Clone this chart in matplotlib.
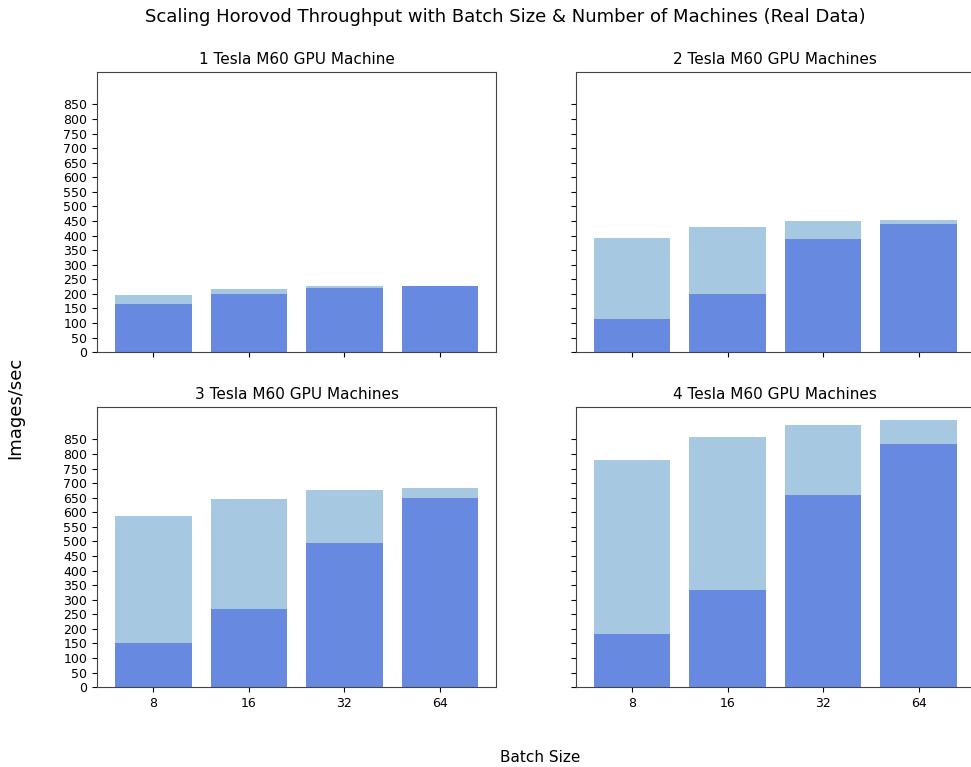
import numpy as np
import matplotlib
matplotlib.use("Agg")
import matplotlib.pyplot as plt

batch_sizes = ["8", "16", "32", "64"]
titles = ["1 Tesla M60 GPU Machine", "2 Tesla M60 GPU Machines",
          "3 Tesla M60 GPU Machines", "4 Tesla M60 GPU Machines"]

# light bars (higher throughput) and dark bars (lower throughput) per machine count
light_1 = [195, 216, 226, 226]
dark_1 = [164, 199, 219, 228]
light_2 = [391, 428, 449, 452]
dark_2 = [113, 199, 387, 439]
light_3 = [586, 644, 675, 685]
dark_3 = [152, 267, 493, 648]
light_4 = [781, 857, 901, 915]
dark_4 = [182, 332, 658, 833]

lights = [light_1, light_2, light_3, light_4]
darks = [dark_1, dark_2, dark_3, dark_4]

fig, axes = plt.subplots(2, 2, figsize=(9.71, 7.67), dpi=100, sharex=True, sharey=True)
fig.subplots_adjust(left=0.1, right=1.004, top=0.906, bottom=0.104, wspace=0.2, hspace=0.196)

x = np.arange(len(batch_sizes))
for i, ax in enumerate(axes.flat):
    ax.bar(x, lights[i], width=0.8, color="#a6c8e0")
    ax.bar(x, darks[i], width=0.8, color="#6889e0")
    ax.set_title(titles[i], fontsize=11)
    ax.set_yticks(np.arange(0, 851, 50))
    ax.tick_params(labelsize=9)
    for s in ax.spines.values():
        s.set_color("#444444")

axes[1][0].set_xticks(x)
axes[1][0].set_xticklabels(batch_sizes)

fig.suptitle("Scaling Horovod Throughput with Batch Size & Number of Machines (Real Data)",
             fontsize=13, x=0.52, y=0.99)
fig.text(0.016, 0.468, "Images/sec", rotation=90, va="center", ha="center", fontsize=13)
fig.text(0.556, 0.003, "Batch Size", va="bottom", ha="center", fontsize=11)

fig.savefig("out.png", dpi=100)
